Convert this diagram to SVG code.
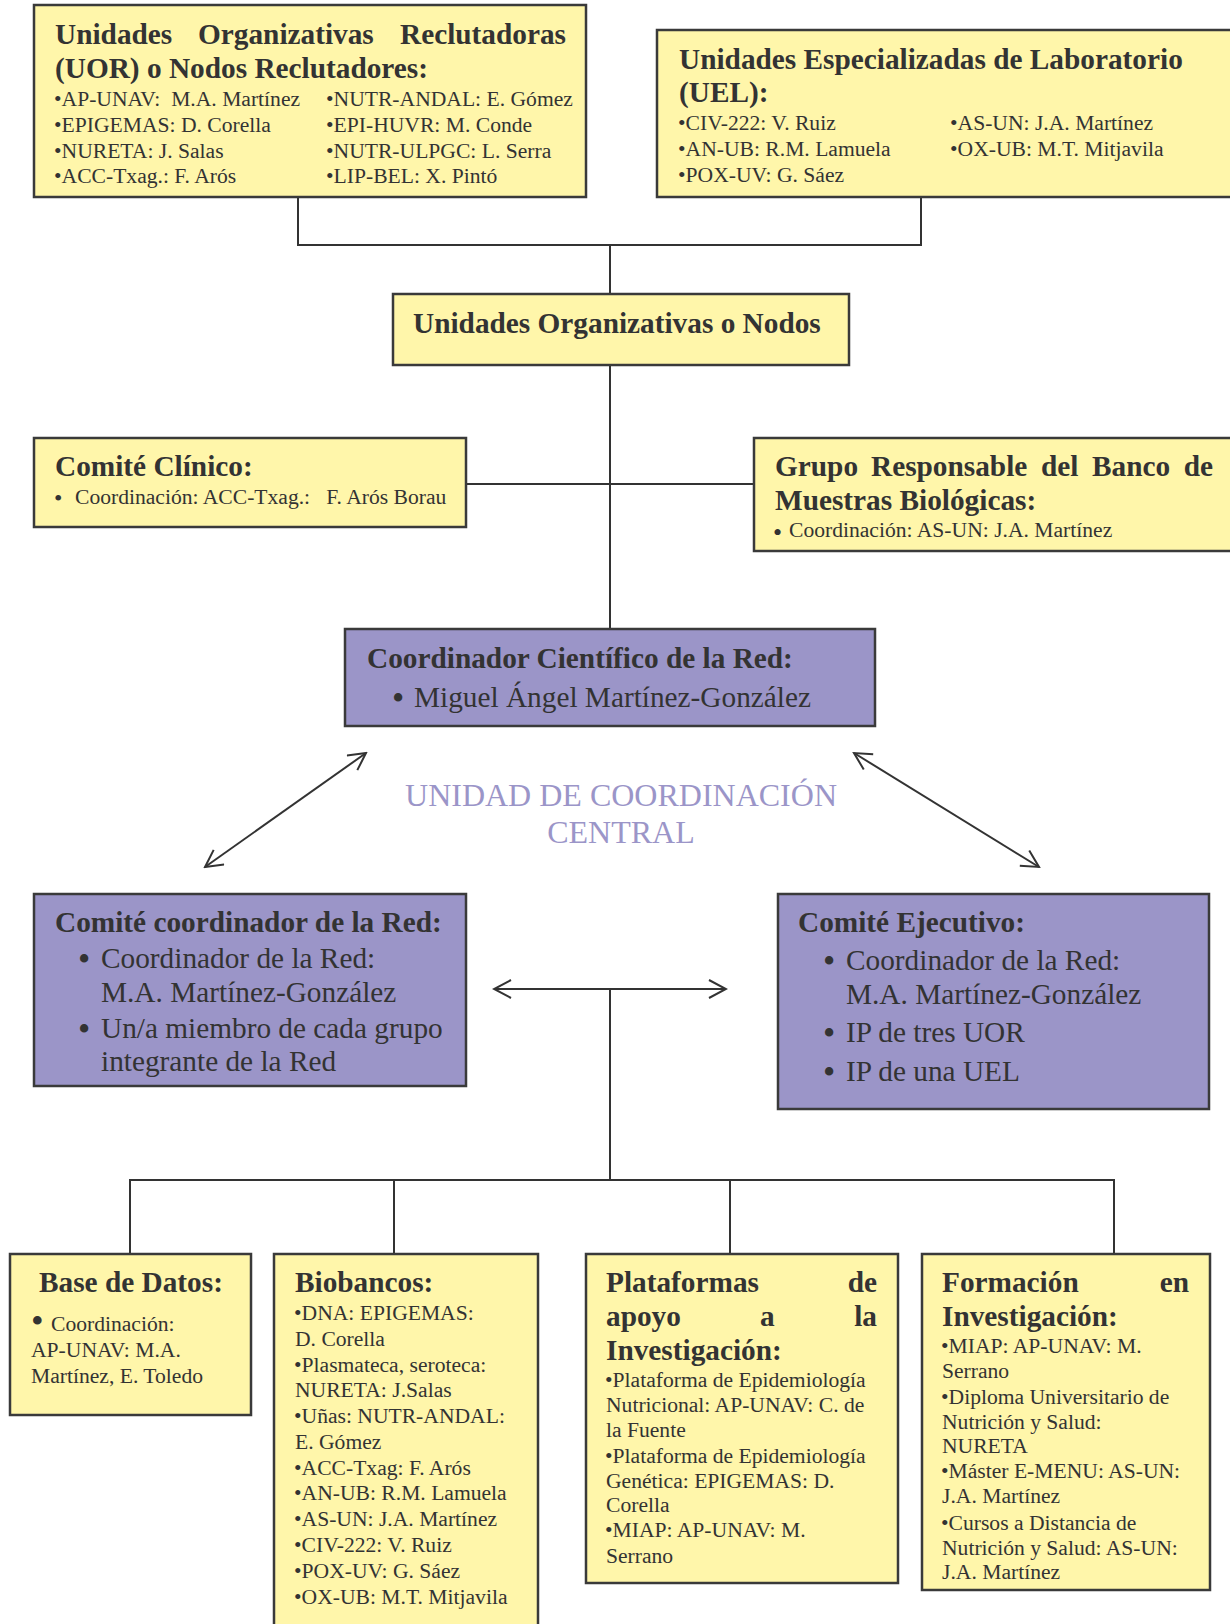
<svg xmlns="http://www.w3.org/2000/svg" width="1230" height="1624" viewBox="0 0 1230 1624">
<style>
.y{fill:#fff6aa;stroke:#3a3a3a;stroke-width:2.5}
.p{fill:#9b95c8;stroke:#3a3a3a;stroke-width:2.5}
text{font-family:"Liberation Serif","Times New Roman",serif;fill:#333}
.h{font-size:29.3px;font-weight:bold}
.t{font-size:21.6px}
.m{font-size:29.3px}
.bb{font-size:35px}
.u{font-size:32px;fill:#9b95c8}
.c{stroke:#333;stroke-width:2;fill:none}
</style>
<defs>
<marker id="ar" viewBox="0 0 20 20" refX="18" refY="10" markerWidth="20" markerHeight="20" markerUnits="userSpaceOnUse" orient="auto-start-reverse">
<path d="M1,1 L18,10 L1,19" fill="none" stroke="#333" stroke-width="2"/>
</marker>
</defs>
<rect width="1230" height="1624" fill="#fff"/>

<g id="connectors">
<path class="c" d="M298,197 V245 H921 V197"/>
<path class="c" d="M610,245 V294"/>
<path class="c" d="M610,365 V629"/>
<path class="c" d="M466,484 H754"/>
<line class="c" x1="205" y1="867" x2="366" y2="753" marker-start="url(#ar)" marker-end="url(#ar)"/>
<line class="c" x1="854" y1="753" x2="1039" y2="867" marker-start="url(#ar)" marker-end="url(#ar)"/>
<line class="c" x1="494" y1="989" x2="726" y2="989" marker-start="url(#ar)" marker-end="url(#ar)"/>
<path class="c" d="M610,989 V1180"/>
<path class="c" d="M130,1254 V1180 H1114 V1254"/>
<path class="c" d="M394,1180 V1254"/>
<path class="c" d="M730,1180 V1254"/>
</g>

<g id="uor">
<rect class="y" x="34" y="5" width="552" height="192"/>
<text class="h" y="44"><tspan x="55">Unidades</tspan><tspan x="198">Organizativas</tspan><tspan x="566" text-anchor="end">Reclutadoras</tspan></text>
<text class="h" x="55" y="78">(UOR) o Nodos Reclutadores:</text>
<text class="t" xml:space="preserve" x="54" y="106">•AP-UNAV:  M.A. Martínez</text>
<text class="t" x="54" y="132">•EPIGEMAS: D. Corella</text>
<text class="t" x="54" y="158">•NURETA: J. Salas</text>
<text class="t" x="54" y="183">•ACC-Txag.: F. Arós</text>
<text class="t" x="326" y="106">•NUTR-ANDAL: E. Gómez</text>
<text class="t" x="326" y="132">•EPI-HUVR: M. Conde</text>
<text class="t" x="326" y="158">•NUTR-ULPGC: L. Serra</text>
<text class="t" x="326" y="183">•LIP-BEL: X. Pintó</text>
</g>

<g id="uel">
<rect class="y" x="657" y="30" width="600" height="167"/>
<text class="h" x="679" y="69">Unidades Especializadas de Laboratorio</text>
<text class="h" x="679" y="102">(UEL):</text>
<text class="t" x="678" y="130">•CIV-222: V. Ruiz</text>
<text class="t" x="678" y="156">•AN-UB: R.M. Lamuela</text>
<text class="t" x="678" y="182">•POX-UV: G. Sáez</text>
<text class="t" x="950" y="130">•AS-UN: J.A. Martínez</text>
<text class="t" x="950" y="156">•OX-UB: M.T. Mitjavila</text>
</g>

<g id="nodos">
<rect class="y" x="393" y="294" width="456" height="71"/>
<text class="h" x="413" y="333">Unidades Organizativas o Nodos</text>
</g>

<g id="clinico">
<rect class="y" x="34" y="438" width="432" height="89"/>
<text class="h" x="55" y="476">Comité Clínico:</text>
<text x="54" y="506" style="font-size:24px">•</text>
<text class="t" xml:space="preserve" x="75" y="504">Coordinación: ACC-Txag.:   F. Arós Borau</text>
</g>

<g id="grupo">
<rect class="y" x="754" y="438" width="500" height="113"/>
<text class="h" y="476"><tspan x="775">Grupo</tspan><tspan x="871">Responsable</tspan><tspan x="1041">del</tspan><tspan x="1092">Banco</tspan><tspan x="1213" text-anchor="end">de</tspan></text>
<text class="h" x="775" y="510">Muestras Biológicas:</text>
<text x="773" y="541" style="font-size:26px">•</text>
<text class="t" x="789" y="537">Coordinación: AS-UN: J.A. Martínez</text>
</g>

<g id="coordinador">
<rect class="p" x="345" y="629" width="530" height="97"/>
<text class="h" x="367" y="668">Coordinador Científico de la Red:</text>
<text class="bb" x="392" y="710">•</text>
<text class="m" x="414" y="707">Miguel Ángel Martínez-González</text>
</g>

<g id="unidad">
<text class="u" x="621" y="806" text-anchor="middle">UNIDAD DE COORDINACIÓN</text>
<text class="u" x="621" y="843" text-anchor="middle">CENTRAL</text>
</g>

<g id="comite-coordinador">
<rect class="p" x="34" y="894" width="432" height="192"/>
<text class="h" x="55" y="932">Comité coordinador de la Red:</text>
<text class="bb" x="78" y="971">•</text>
<text class="m" x="101" y="968">Coordinador de la Red:</text>
<text class="m" x="101" y="1002">M.A. Martínez-González</text>
<text class="bb" x="78" y="1041">•</text>
<text class="m" x="101" y="1038">Un/a miembro de cada grupo</text>
<text class="m" x="101" y="1071">integrante de la Red</text>
</g>

<g id="comite-ejecutivo">
<rect class="p" x="778" y="894" width="431" height="215"/>
<text class="h" x="798" y="932">Comité Ejecutivo:</text>
<text class="bb" x="823" y="973">•</text>
<text class="m" x="846" y="970">Coordinador de la Red:</text>
<text class="m" x="846" y="1004">M.A. Martínez-González</text>
<text class="bb" x="823" y="1045">•</text>
<text class="m" x="846" y="1042">IP de tres UOR</text>
<text class="bb" x="823" y="1084">•</text>
<text class="m" x="846" y="1081">IP de una UEL</text>
</g>

<g id="base-datos">
<rect class="y" x="10" y="1254" width="241" height="161"/>
<text class="h" x="39" y="1292">Base de Datos:</text>
<text x="31" y="1333" style="font-size:36px">•</text>
<text class="t" x="51" y="1331">Coordinación:</text>
<text class="t" x="31" y="1357">AP-UNAV: M.A.</text>
<text class="t" x="31" y="1383">Martínez, E. Toledo</text>
</g>

<g id="biobancos">
<rect class="y" x="274" y="1254" width="264" height="390"/>
<text class="h" x="295" y="1292">Biobancos:</text>
<text class="t" x="294" y="1320">•DNA: EPIGEMAS:</text>
<text class="t" x="295" y="1346">D. Corella</text>
<text class="t" x="294" y="1372">•Plasmateca, seroteca:</text>
<text class="t" x="295" y="1397">NURETA: J.Salas</text>
<text class="t" x="294" y="1423">•Uñas: NUTR-ANDAL:</text>
<text class="t" x="295" y="1449">E. Gómez</text>
<text class="t" x="294" y="1475">•ACC-Txag: F. Arós</text>
<text class="t" x="294" y="1500">•AN-UB: R.M. Lamuela</text>
<text class="t" x="294" y="1526">•AS-UN: J.A. Martínez</text>
<text class="t" x="294" y="1552">•CIV-222: V. Ruiz</text>
<text class="t" x="294" y="1578">•POX-UV: G. Sáez</text>
<text class="t" x="294" y="1604">•OX-UB: M.T. Mitjavila</text>
</g>

<g id="plataformas">
<rect class="y" x="586" y="1254" width="312" height="329"/>
<text class="h" y="1292"><tspan x="606">Plataformas</tspan><tspan x="877" text-anchor="end">de</tspan></text>
<text class="h" y="1326"><tspan x="606">apoyo</tspan><tspan x="760">a</tspan><tspan x="877" text-anchor="end">la</tspan></text>
<text class="h" x="606" y="1360">Investigación:</text>
<text class="t" x="605" y="1387">•Plataforma de Epidemiología</text>
<text class="t" x="606" y="1412">Nutricional: AP-UNAV: C. de</text>
<text class="t" x="606" y="1437">la Fuente</text>
<text class="t" x="605" y="1463">•Plataforma de Epidemiología</text>
<text class="t" x="606" y="1488">Genética: EPIGEMAS: D.</text>
<text class="t" x="606" y="1512">Corella</text>
<text class="t" x="605" y="1537">•MIAP: AP-UNAV: M.</text>
<text class="t" x="606" y="1563">Serrano</text>
</g>

<g id="formacion">
<rect class="y" x="922" y="1254" width="288" height="336"/>
<text class="h" y="1292"><tspan x="942">Formación</tspan><tspan x="1189" text-anchor="end">en</tspan></text>
<text class="h" x="942" y="1326">Investigación:</text>
<text class="t" x="941" y="1353">•MIAP: AP-UNAV: M.</text>
<text class="t" x="942" y="1378">Serrano</text>
<text class="t" x="941" y="1404">•Diploma Universitario de</text>
<text class="t" x="942" y="1429">Nutrición y Salud:</text>
<text class="t" x="942" y="1453">NURETA</text>
<text class="t" x="941" y="1478">•Máster E-MENU: AS-UN:</text>
<text class="t" x="942" y="1503">J.A. Martínez</text>
<text class="t" x="941" y="1530">•Cursos a Distancia de</text>
<text class="t" x="942" y="1555">Nutrición y Salud: AS-UN:</text>
<text class="t" x="942" y="1579">J.A. Martínez</text>
</g>
</svg>
